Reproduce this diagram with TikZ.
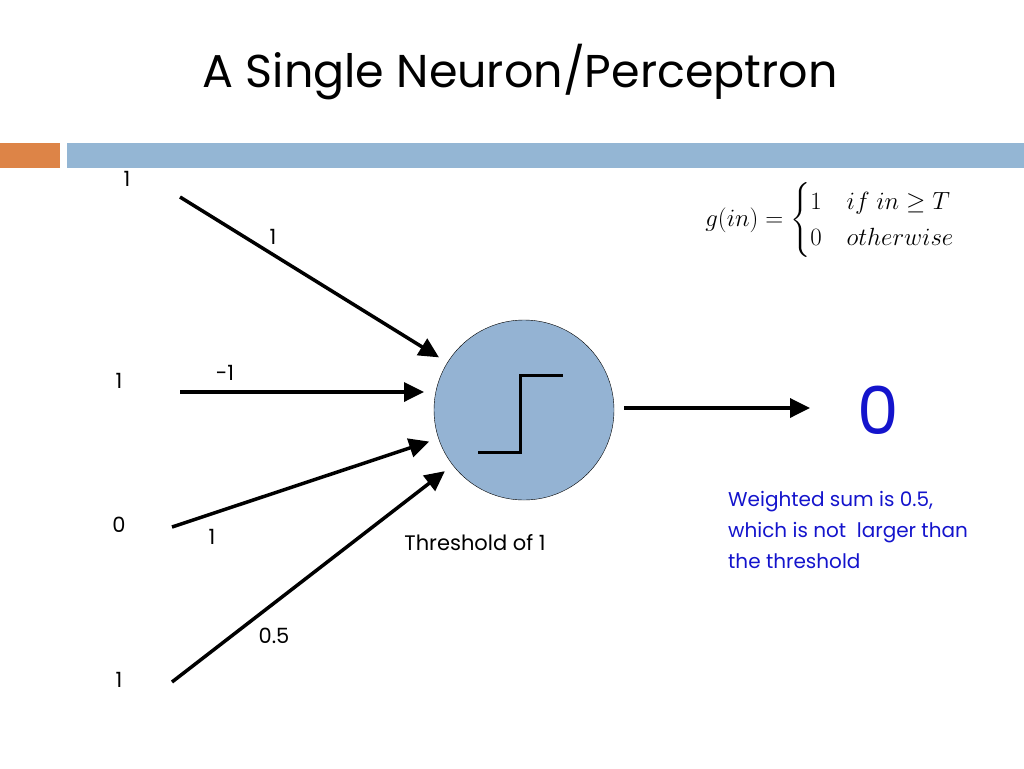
\documentclass[tikz,border=0pt]{standalone}
\usepackage{amsmath}
\usepackage{amssymb}
\usepackage{fontspec}
\setmainfont{Poppins}
\usetikzlibrary{arrows.meta}
\definecolor{barorange}{HTML}{DD8447}
\definecolor{barblue}{HTML}{94B6D4}
\definecolor{cellblue}{HTML}{94B3D3}
\definecolor{noteblue}{HTML}{1414CC}

\begin{document}
\begin{tikzpicture}[x=1pt, y=-1pt,
	link/.style={line width=3.5pt, -{Triangle[length=20pt,width=19pt]}},
	lbl/.style={font=\fontsize{21}{24}\selectfont, inner sep=0pt}]
			\useasboundingbox (0,0) rectangle (1024,768);
			% Title and bars
			\node (title) at (520,72) {\fontsize{46}{56}\selectfont A Single Neuron/Perceptron};
			\fill[barorange] (0,143) rectangle (60,168);
			\fill[barblue] (67,143) rectangle (1024,168);
			% Neuron
			\node[circle, draw, thin, fill=cellblue, minimum size=180pt, outer sep=10pt] (neuron) at (524,410) {};
			\draw[line width=3pt] (478,452) -- (520,452) -- (520,375) -- (563,375);
			% Inputs
			\foreach \i/\x/\y/\v in {1/127/179/1, 2/119/381/1, 3/119/525/0, 4/119/680/1} {
				\node[lbl] (in\i) at (\x,\y) {\v};
			}
			\coordinate (s1) at (180,197);
			\coordinate (s2) at (180,392);
			\coordinate (s3) at (172,527);
			\coordinate (s4) at (172,682);
			\draw[link] (s1) -- (neuron);
			\draw[link] (s2) -- (s2 -| neuron.west);
			\draw[link] (s3) -- (neuron);
			\draw[link] (s4) -- (neuron);
			% Weights
			\node[lbl] (w1) at (273,237) {1};
			\node[lbl] (w2) at (225,373) {-1};
			\node[lbl] (w3) at (212,537) {1};
			\node[lbl] (w4) at (274,636) {0.5};
			\node[lbl] (thresh) at (475,543) {Threshold of 1};
			% Output
			\coordinate (o) at (810,408);
			\draw[link] (neuron.east |- o) -- (o);
			\node[text=noteblue, font=\fontsize{66}{70}\selectfont] (result) at (878,410) {0};
			\node[lbl, text=noteblue, align=left, anchor=north west, font=\fontsize{20}{31}\selectfont] (note) at (728,491) {Weighted sum is 0.5,\\which is not\ \ larger than\\the threshold};
			\node[font=\fontsize{25}{30}\selectfont] (gin) at (830,220) {$g(in)=\begin{cases}1 & if\ in\geq T\\ 0 & otherwise\end{cases}$};
		\end{tikzpicture}
\end{document}
